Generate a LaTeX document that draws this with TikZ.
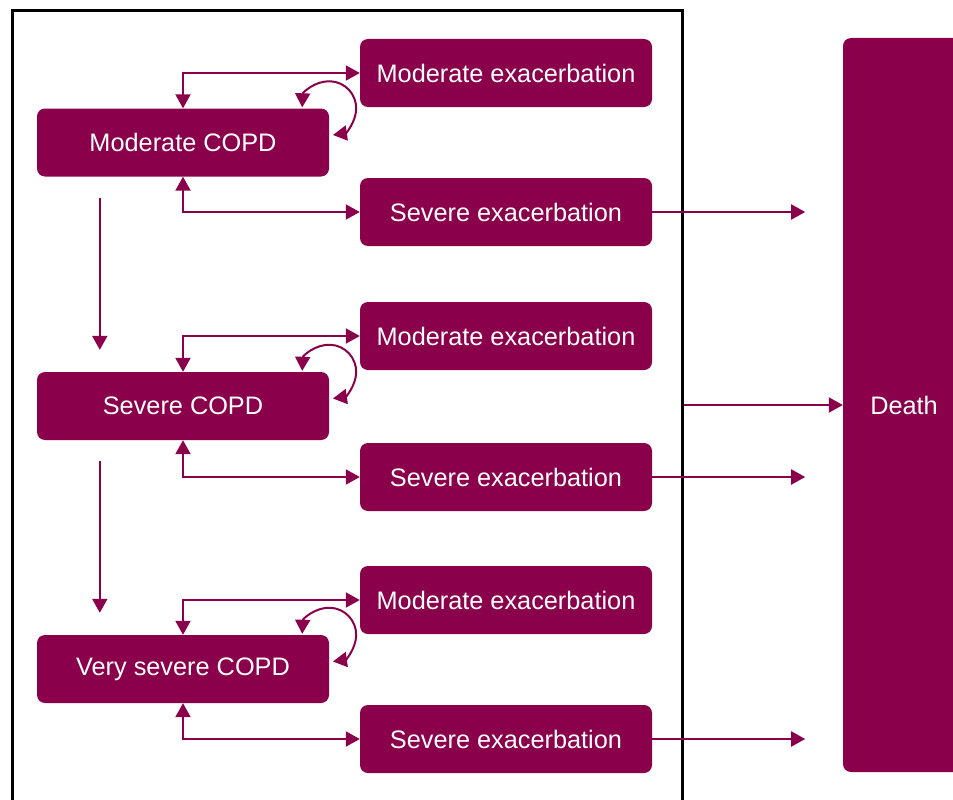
\documentclass[tikz,border=0pt]{standalone}
\usepackage{fontspec}
\setmainfont{Liberation Sans}
\usetikzlibrary{arrows.meta,calc}
\definecolor{plum}{RGB}{138,0,75}
\begin{document}
\begin{tikzpicture}[x=1pt,y=-1pt,
  box/.style={fill=plum, text=white, rounded corners=8pt, minimum width=292pt, minimum height=68pt, inner sep=0pt, font=\fontsize{25.3}{30}\selectfont},
  conn/.style={draw=plum, line width=2pt, -{Triangle[length=14pt,width=15pt]}},
  bconn/.style={draw=plum, line width=2pt, {Triangle[length=14pt,width=15pt]}-{Triangle[length=14pt,width=15pt]}}
]
\useasboundingbox (0,0) rectangle (953,800);
% frame
\node[draw=black, line width=3pt, minimum width=670pt, minimum height=820pt, anchor=north west, inner sep=0pt] (frame) at (11,9.5) {};
% death
\node[fill=plum, text=white, rounded corners=8pt, minimum width=122pt, minimum height=734pt, inner sep=0pt, font=\fontsize{25.3}{30}\selectfont] (death) at (904,405) {Death};

% level 1
\node[box] (c1) at (183,142.5) {Moderate COPD};
\node[box] (m1) at (506,73) {Moderate exacerbation};
\node[box] (s1) at (506,212) {Severe exacerbation};
% level 2
\node[box] (c2) at (183,406) {Severe COPD};
\node[box] (m2) at (506,336) {Moderate exacerbation};
\node[box] (s2) at (506,477) {Severe exacerbation};
% level 3
\node[box] (c3) at (183,669) {Very severe COPD};
\node[box] (m3) at (506,600) {Moderate exacerbation};
\node[box] (s3) at (506,739) {Severe exacerbation};

\foreach \c/\m/\s in {c1/m1/s1, c2/m2/s2, c3/m3/s3}{
  \draw[bconn] (\c.north) |- (\m.west);
  \draw[bconn] (\c.south) |- (\s.west);
  \draw[bconn] ($(\c.north east)+(-27,-1)$) arc[start angle=182, end angle=442, radius=27];
  \coordinate (\s-end) at ($(\s.east)+(153,0)$);
  \draw[conn] (\s.east) -- (\s-end);
}
\draw[conn] ($(c1.south west)+(63,21)$) -- ($(c2.north west)+(63,-22)$);
\draw[conn] ($(c2.south west)+(63,21)$) -- ($(c3.north west)+(63,-22)$);
\draw[conn] (frame.east |- death.west) -- (death.west);
\end{tikzpicture}
\end{document}
